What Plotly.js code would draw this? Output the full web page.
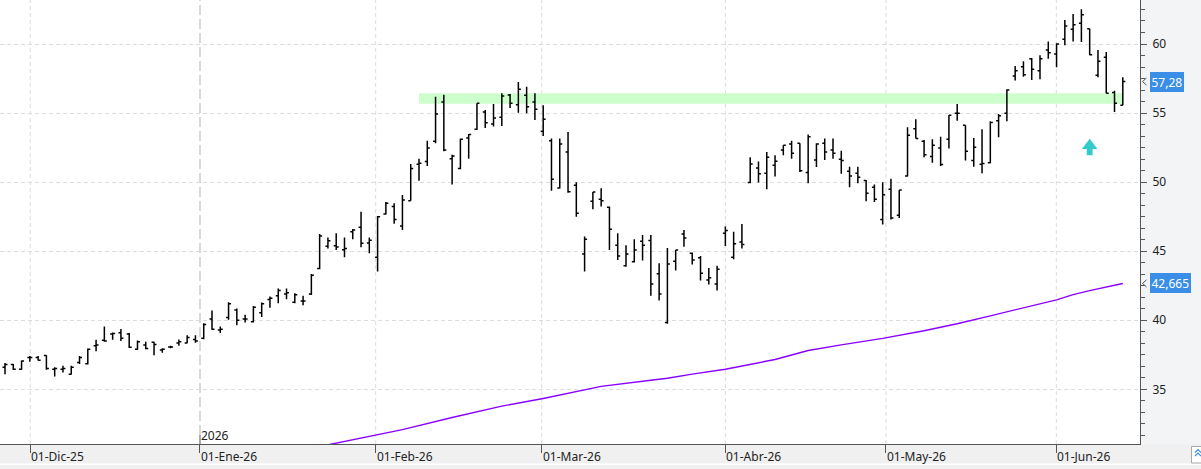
<!DOCTYPE html>
<html><head><meta charset="utf-8">
<script src="https://cdn.plot.ly/plotly-3.0.1.min.js"></script>
<style>html,body{margin:0;padding:0;overflow:hidden;background:#f3f4f6}#chart{width:1201px;height:469px}</style>
</head><body><div id="chart"></div>
<script>
const opens = [36.6,36.8,36.45,37.3,37.3,37.45,36.45,36.45,36.1,36.95,36.85,38.15,38.55,39.0,39.1,39.0,37.9,38.2,38.4,37.85,38.07,38.35,38.35,38.6,38.7,40.1,39.3,40.2,40.75,40.1,39.9,40.55,41.5,41.77,41.9,41.3,41.4,41.9,43.74,45.35,45.4,45.1,46.4,46.73,45.6,44.56,47.7,48.23,46.83,48.66,51.3,51.5,52.96,55.8,51.7,50.98,53.2,53.83,55.08,54.21,54.7,56.3,55.61,56.29,55.8,53.68,53.0,49.58,52.18,49.78,44.8,48.62,48.76,48.18,45.43,43.94,44.23,45.72,45.77,43.36,39.83,44.27,46.25,44.85,44.52,42.92,42.63,46.3,44.56,45.67,49.97,51.03,50.64,51.22,52.33,52.76,52.81,50.69,51.61,52.81,52.33,51.66,50.79,50.64,50.11,49.63,47.3,49.49,47.61,50.45,53.87,52.96,51.85,52.47,53.1,54.98,54.12,51.56,51.3,51.41,54.45,54.98,57.68,58.36,58.94,58.07,59.57,59.28,60.34,61.06,61.5,61.11,57.73,59.04,56.48,55.56];
const highs = [36.9,36.84,37.08,37.42,37.42,37.47,36.6,36.7,36.7,37.42,37.95,38.58,39.55,39.11,39.36,39.07,38.53,38.44,38.44,37.98,38.16,38.6,38.92,38.92,39.79,40.7,39.55,41.31,40.85,40.39,41.04,41.28,41.72,42.3,42.3,41.96,41.77,43.35,46.25,46.0,46.3,46.0,46.6,47.85,46.0,47.55,48.57,48.47,49.07,51.32,51.7,53.0,56.19,56.33,51.99,53.15,53.49,55.71,55.22,55.66,56.43,56.38,57.25,56.91,56.43,55.56,53.15,53.15,53.63,50.0,46.06,49.29,49.56,48.23,46.3,45.43,45.87,46.18,46.18,44.13,45.24,45.09,46.54,44.9,44.66,43.79,43.94,46.78,46.4,46.97,51.8,51.5,52.18,51.95,52.67,53.0,52.82,53.44,52.81,53.15,53.15,52.28,51.12,51.12,50.16,49.82,50.0,50.25,49.43,53.97,54.55,53.05,53.1,53.29,54.86,55.66,54.12,53.2,53.83,54.41,54.94,56.72,58.41,58.75,58.99,59.18,60.19,60.05,61.74,62.17,62.51,61.11,59.57,59.42,56.62,57.59];
const lows = [36.1,36.4,36.41,36.99,37.08,36.41,35.93,36.22,36.07,36.84,36.79,37.76,38.44,38.58,38.49,38.0,37.86,37.91,37.47,37.65,37.98,38.16,38.34,38.38,38.63,39.31,39.07,40.03,39.64,39.83,39.83,40.23,40.9,41.23,41.53,41.23,41.09,41.82,43.7,45.2,45.09,44.56,45.87,45.29,44.85,43.53,47.65,46.98,46.54,48.66,50.1,51.17,52.81,52.24,49.82,50.93,51.7,53.78,53.92,54.02,54.07,55.37,55.03,54.98,54.5,53.34,49.38,49.53,49.24,47.5,43.53,48.04,48.23,45.09,44.37,43.88,44.18,44.32,41.77,41.43,39.74,43.6,45.33,44.03,42.87,42.58,42.15,45.38,44.42,45.19,49.92,49.97,49.49,50.4,51.95,51.7,50.74,49.92,51.1,51.61,51.7,50.6,49.63,49.92,48.62,48.57,46.93,47.3,47.41,50.4,53.15,51.8,51.41,51.17,52.43,54.45,51.56,51.12,50.64,51.37,53.25,54.41,57.35,57.63,57.39,57.44,58.94,58.31,59.91,60.19,60.14,59.18,57.59,56.43,55.08,55.56];
const closes = [36.8,36.45,37.05,37.3,37.1,36.5,36.5,36.5,36.6,37.3,37.9,38.2,38.5,39.05,38.7,38.05,38.45,37.95,38.25,37.9,38.07,38.45,38.75,38.5,39.7,39.35,39.35,41.2,40.0,40.1,40.95,41.2,41.6,42.15,42.0,41.85,41.4,43.25,46.1,45.75,45.3,45.2,46.54,45.58,45.8,47.5,48.47,47.3,48.71,50.98,51.37,52.47,54.94,52.33,51.9,53.1,53.44,55.71,54.3,54.65,56.24,55.71,56.72,55.46,55.27,54.55,50.21,52.76,49.3,47.75,45.87,49.29,48.66,46.59,44.66,44.8,45.09,45.43,42.63,41.91,44.08,45.09,45.96,44.37,43.4,43.07,43.7,46.49,45.53,45.48,51.32,50.6,51.8,51.51,52.67,52.09,50.83,53.29,52.76,52.18,52.09,51.56,50.45,50.35,49.2,48.76,49.09,47.41,49.43,53.39,53.15,51.99,52.67,51.27,54.84,54.98,52.24,52.52,51.35,54.31,54.8,56.67,58.07,57.78,58.17,58.94,59.37,60.0,61.3,61.4,62.12,59.23,58.75,56.43,55.71,57.28];

const maIndex = [38,40,48,54,60,65,72,78,80,83,87,93,97,101,106,111,115,119,123,127,129,131,135];
const maValues = [30.86,31.1,32.08,32.96,33.78,34.34,35.21,35.66,35.8,36.1,36.45,37.16,37.81,38.22,38.69,39.24,39.75,40.32,40.91,41.48,41.86,42.15,42.665];

const monthTickIndex = [3.05,23.55,44.77,64.82,87.0,106.4,126.97];
const monthTickLabels = ['01-Dic-25','01-Ene-26','01-Feb-26','01-Mar-26','01-Abr-26','01-May-26','01-Jun-26'];
const yearBoundaryIndex = 23.55;
const yearLabel = '2026';

const bandStartIndex = 50;
const bandEndIndex = 135;
const bandLow = 55.68;
const bandHigh = 56.43;

const signalIndex = 131;
const signalValue = 53.14;

const W = 1201, H = 469, ML = 0, MR = 61, MT = 0, MB = 25;
const PW = W - ML - MR, PH = H - MT - MB;
const xs = opens.map((_, i) => i);
const FONT = 'Noto Sans, DejaVu Sans, sans-serif';
const blue = '#3a8ee6';

const px2paperX = p => p / PW;
const px2paperY = p => (PH - p) / PH;

const shapes = [];
// bottom strip
shapes.push({type:'rect', xref:'paper', yref:'paper', x0:-0.01, x1:1.06, y0:px2paperY(PH+30), y1:0, fillcolor:'#f0f0f0', line:{width:0}, layer:'below'});
shapes.push({type:'rect', xref:'paper', yref:'paper', x0:-0.01, x1:1.06, y0:px2paperY(PH+21), y1:px2paperY(PH+19.5), fillcolor:'#ffffff', line:{width:0}, layer:'below'});
// vertical month gridlines
monthTickIndex.forEach(v => {
  if (v === yearBoundaryIndex) {
    shapes.push({type:'line', xref:'x', yref:'paper', x0:v, x1:v, y0:px2paperY(PH-9), y1:1, line:{color:'#cccccc', width:1.5, dash:'10px,4px'}, layer:'below'});
    shapes.push({type:'line', xref:'x', yref:'paper', x0:v, x1:v, y0:0, y1:px2paperY(PH-9), line:{color:'#555555', width:1}});
  } else {
    shapes.push({type:'line', xref:'x', yref:'paper', x0:v, x1:v, y0:0, y1:1, line:{color:'#dcdcdc', width:1, dash:'4px,3px'}, layer:'below'});
  }
});
// support band
shapes.push({type:'rect', xref:'x', yref:'y', x0:bandStartIndex, x1:bandEndIndex, y0:bandLow, y1:bandHigh, fillcolor:'#ccffcc', line:{width:0}, layer:'below'});
// signal arrow
shapes.push({type:'path', xref:'x', yref:'y', xsizemode:'pixel', ysizemode:'pixel', xanchor:signalIndex, yanchor:signalValue,
  path:'M0,0 L-7.8,-10.3 L-2.9,-10.3 L-2.9,-16.5 L2.9,-16.5 L2.9,-10.3 L7.8,-10.3 Z', fillcolor:'#33cccc', line:{width:0}});
// chevrons at price labels
[closes[closes.length-1], maValues[maValues.length-1]].forEach(v => {
  shapes.push({type:'path', xref:'paper', yref:'y', xsizemode:'pixel', xanchor:1, ysizemode:'pixel', yanchor:v,
    path:'M6.5,3.5 L2.5,0 L6.5,-3.5', line:{color:'#555555', width:1}});
});
// scroll icon box
shapes.push({type:'rect', xref:'paper', yref:'paper', x0:px2paperX(1191.5), x1:px2paperX(1215), y0:px2paperY(PH+19), y1:px2paperY(PH+2.5), fillcolor:'#ffffff', line:{color:'#a8a8a8', width:1}});
[[449.5],[453]].forEach(([yy]) => {
  shapes.push({type:'path', xref:'paper', yref:'paper',
    path:`M${px2paperX(1195)},${px2paperY(yy+3)} L${px2paperX(1198)},${px2paperY(yy)} L${px2paperX(1201)},${px2paperY(yy+3)}`,
    line:{color:blue, width:1.2}});
});

const annotations = [];
monthTickIndex.forEach((v, i) => {
  annotations.push({xref:'x', yref:'paper', x:v, y:px2paperY(PH+12.5), xanchor:'left', yanchor:'middle', showarrow:false,
    text:monthTickLabels[i], font:{family:FONT, size:12, color:'#222'}, borderpad:0});
});
annotations.push({xref:'x', yref:'paper', x:yearBoundaryIndex, y:px2paperY(PH-8.5), xanchor:'left', yanchor:'middle', showarrow:false,
  text:yearLabel, font:{family:FONT, size:12, color:'#222'}, borderpad:0});
const lastClose = closes[closes.length-1];
const lastMA = maValues[maValues.length-1];
annotations.push({xref:'paper', yref:'y', x:px2paperX(1150), y:lastClose, xanchor:'left', yanchor:'middle', showarrow:false,
  text:lastClose.toFixed(2).replace('.', ','), font:{family:FONT, size:12, color:'#ffffff'}, bgcolor:blue, borderpad:1.5, borderwidth:0});
annotations.push({xref:'paper', yref:'y', x:px2paperX(1150), y:lastMA, xanchor:'left', yanchor:'middle', showarrow:false,
  text:String(lastMA).replace('.', ','), font:{family:FONT, size:12, color:'#ffffff'}, bgcolor:blue, borderpad:1.5, borderwidth:0});

const traces = [
  {type:'ohlc', x:xs, open:opens, high:highs, low:lows, close:closes, tickwidth:0.3,
   increasing:{line:{color:'#000000', width:1.5}}, decreasing:{line:{color:'#000000', width:1.5}}, hoverinfo:'skip', showlegend:false},
  {type:'scatter', mode:'lines', x:maIndex, y:maValues, line:{color:'#8a00ff', width:1.4}, hoverinfo:'skip', showlegend:false}
];

const x0 = -5 / 8.28;
const layout = {
  width:W, height:H, margin:{l:ML, r:MR, t:MT, b:MB, pad:0},
  paper_bgcolor:'#f3f4f6', plot_bgcolor:'#ffffff', showlegend:false,
  font:{family:FONT, size:12, color:'#222'},
  xaxis:{type:'linear', range:[x0, x0 + PW/8.28], rangeslider:{visible:false}, showgrid:false, zeroline:false,
    tickmode:'array', tickvals:monthTickIndex, ticktext:monthTickLabels.map(()=>''), showticklabels:false,
    ticks:'outside', ticklen:8, tickcolor:'#555555', showline:true, linecolor:'#555555', linewidth:1, fixedrange:true},
  yaxis:{side:'right', range:[60 - (PH-44)/13.813, 60 + 44/13.813], tickmode:'linear', tick0:0, dtick:5,
    ticks:'outside', ticklen:6, tickcolor:'#555555', showline:true, linecolor:'#555555', linewidth:1,
    showgrid:true, gridcolor:'#dcdcdc', griddash:'4px,3px', gridwidth:1, zeroline:false,
    tickfont:{family:FONT, size:12, color:'#222'}, ticklabelstandoff:3,
    minor:{tick0:0, dtick:5/6, ticks:'outside', ticklen:4, tickcolor:'#555555', showgrid:false}, fixedrange:true},
  shapes, annotations
};

Plotly.newPlot('chart', traces, layout, {displayModeBar:false, staticPlot:true});
</script></body></html>
